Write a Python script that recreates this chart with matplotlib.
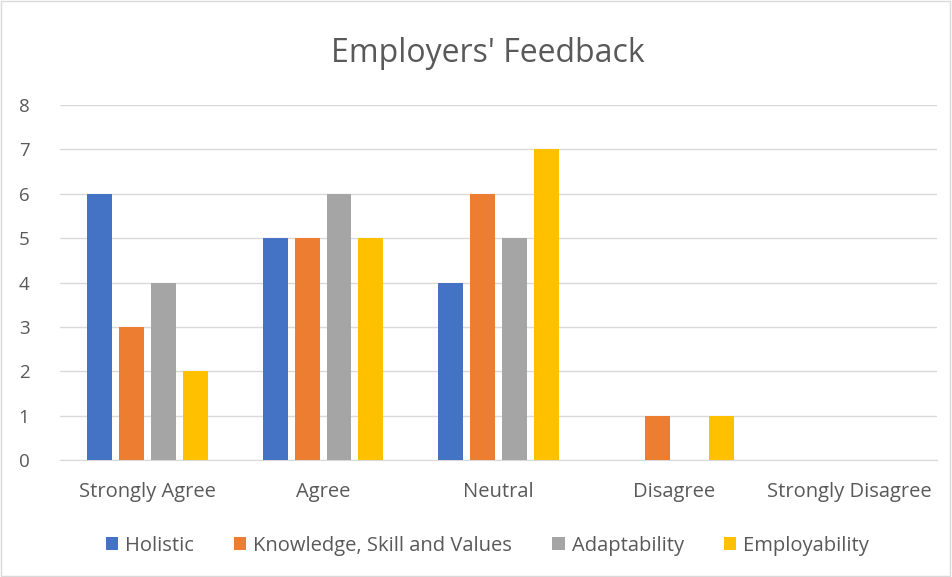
import numpy as np
import matplotlib.pyplot as plt

categories = ["Strongly Agree", "Agree", "Neutral", "Disagree", "Strongly Disagree"]
series_names = ["Holistic", "Knowledge, Skill and Values", "Adaptability", "Employability"]
holistic = [6, 5, 4, 0, 0]
knowledge = [3, 5, 6, 1, 0]
adaptability = [4, 6, 5, 0, 0]
employability = [2, 5, 7, 1, 0]
colors = ["#4472C4", "#ED7D31", "#A5A5A5", "#FFC000"]

plt.rcParams['font.family'] = ['Open Sans', 'DejaVu Sans']
text_color = "#595959"

fig = plt.figure(figsize=(9.52, 5.77), dpi=100)
ax = fig.add_axes([0.063, 0.2028, 0.921, 0.615])

x = np.arange(len(categories))
width = 0.142
step = 0.182
values = [holistic, knowledge, adaptability, employability]
for i, (name, vals) in enumerate(zip(series_names, values)):
    ax.bar(x + (i - 1.5) * step, vals, width, color=colors[i], label=name, zorder=3)

ax.set_xlim(-0.5, len(categories) - 0.5)
ax.set_ylim(0, 8)
ax.set_yticks(range(0, 9))
ax.set_xticks(x)
ax.set_xticklabels(categories)
ax.grid(axis='y', color="#D9D9D9", linewidth=1, zorder=0)
for s in ["top", "right", "left"]:
    ax.spines[s].set_visible(False)
ax.spines["bottom"].set_color("#D9D9D9")
ax.tick_params(axis='y', length=0, colors=text_color, labelsize=13.5, pad=22)
ax.tick_params(axis='x', length=0, colors=text_color, labelsize=14.5, pad=16)

fig.text(0.512, 0.907, "Employers' Feedback", ha='center', va='center',
         fontsize=23, color=text_color)

fig.legend(loc='center', bbox_to_anchor=(0.512, 0.054), ncol=4, frameon=False,
           fontsize=14.5, labelcolor=text_color, handlelength=0.6, handleheight=0.6,
           columnspacing=2.0, handletextpad=0.35)

# thin border around the chart area
fig.patches.append(plt.Rectangle((0.001, 0.001), 0.997, 0.997, transform=fig.transFigure,
                                 fill=False, edgecolor="#D9D9D9", linewidth=1))

fig.savefig("out.png", dpi=100)
